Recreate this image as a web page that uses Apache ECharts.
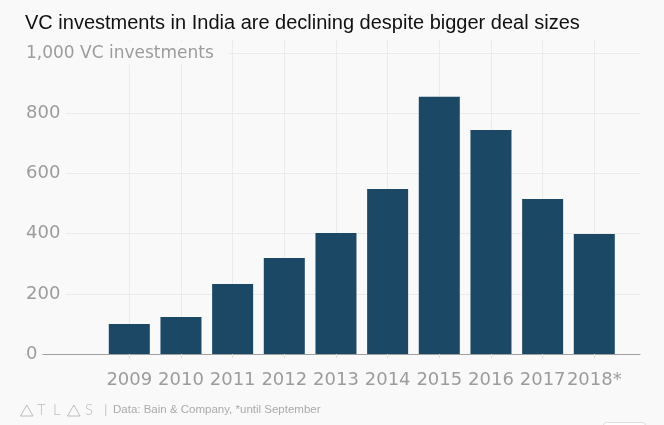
<!DOCTYPE html>
<html><head><meta charset="utf-8">
<script src="https://cdn.jsdelivr.net/npm/echarts@6/dist/echarts.min.js"></script>
<style>html,body{margin:0;padding:0;background:#f9f9f9}#c{width:664px;height:425px}</style>
</head><body><div id="c"></div>
<script>
// ---- data ----
const years = ['2009','2010','2011','2012','2013','2014','2015','2016','2017','2018*'];
const investments = [100, 123, 233, 319, 402, 549, 855, 745, 515, 399];
const yTicks = [0, 200, 400, 600, 800, 1000];
const titleText = 'VC investments in India are declining despite bigger deal sizes';
const unitLabel = '1,000 VC investments';
const sourceText = 'Data: Bain & Company, *until September';

// ---- chart ----
const BG = '#f9f9f9';
const GRIDC = '#ebebeb';
const LABELC = '#9c9c9c';
const yMax = 1044;
const chart = echarts.init(document.getElementById('c'), null, {renderer: 'canvas'});
const option = {
  backgroundColor: BG,
  animation: false,
  textStyle: {fontFamily: 'DejaVu Sans'},
  title: {
    text: titleText, left: 20, top: 8,
    textStyle: {fontFamily: 'Liberation Sans', fontSize: 20, fontWeight: 'normal', color: '#111'}
  },
  grid: [
    {left: 26, right: 24, top: 40, bottom: 71},
    {left: 129.3, right: 664 - 594.3, top: 40, bottom: 71}
  ],
  xAxis: [
    {gridIndex: 0, type: 'value', min: 0, max: 1,
     axisLine: {show: true, onZero: false, lineStyle: {color: '#a0a0a0', width: 1}},
     axisTick: {show: false}, axisLabel: {show: false}, splitLine: {show: false}},
    {gridIndex: 1, type: 'category', data: years, boundaryGap: false,
     axisLine: {show: false},
     axisTick: {show: true, interval: 0, length: 4, lineStyle: {color: '#dddddd'}},
     axisLabel: {interval: 0, color: LABELC, fontSize: 18, margin: 17},
     splitLine: {show: true, interval: 0, lineStyle: {color: GRIDC}}}
  ],
  yAxis: [
    {gridIndex: 0, type: 'value', min: 0, max: yMax, interval: 200, z: 1,
     axisLine: {show: false}, axisTick: {show: false},
     splitLine: {show: true, showMinLine: false, showMaxLine: false, lineStyle: {color: GRIDC}},
     axisLabel: {
       inside: true, margin: 0, align: 'left', color: LABELC, fontSize: 18,
       showMaxLabel: false,
       backgroundColor: BG, padding: [3, 5, 3, 0],
       formatter: v => v === 1000 ? '{u|' + unitLabel + '}' : (yTicks.includes(v) ? String(v) : ''),
       rich: {u: {fontSize: 17, color: LABELC, padding: [0, 10, 0, 0]}}
     }},
    {gridIndex: 1, type: 'value', min: 0, max: yMax, show: false}
  ],
  series: [{
    type: 'bar', xAxisIndex: 1, yAxisIndex: 1, data: investments,
    barWidth: 41, clip: false, itemStyle: {color: '#1a4865'}
  }],
  graphic: [
    {type: 'polygon', shape: {points: [[20.5, 416], [26.8, 405], [33, 416]]},
     style: {fill: 'none', stroke: '#bdbdbd', lineWidth: 1}},
    {type: 'text', left: 37, top: 403, style: {text: 'T', fill: '#bdbdbd', font: '300 15px Lato'}},
    {type: 'text', left: 53, top: 403, style: {text: 'L', fill: '#bdbdbd', font: '300 15px Lato'}},
    {type: 'polygon', shape: {points: [[67.5, 416], [73.8, 405], [80, 416]]},
     style: {fill: 'none', stroke: '#bdbdbd', lineWidth: 1}},
    {type: 'text', left: 85, top: 403, style: {text: 'S', fill: '#bdbdbd', font: '300 15px Lato'}},
    {type: 'text', left: 104, top: 403, style: {text: '|', fill: '#cccccc', font: '13px "Liberation Sans"'}},
    {type: 'text', left: 113, top: 404, style: {text: sourceText, fill: '#aaaaaa', font: '11.5px "Liberation Sans"'}},
    {type: 'rect', shape: {x: 603.5, y: 422.5, width: 42, height: 12, r: 3},
     style: {fill: '#ffffff', stroke: '#dddddd', lineWidth: 1}}
  ]
};
chart.setOption(option);
</script>
</body></html>
